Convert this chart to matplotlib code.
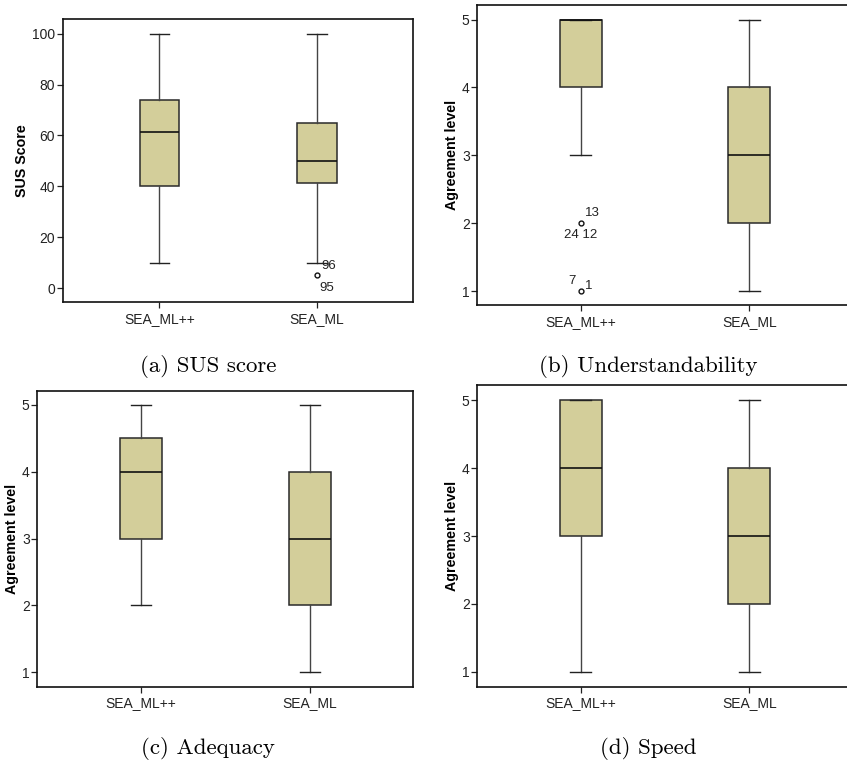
import matplotlib
matplotlib.use("Agg")
import matplotlib.pyplot as plt

plt.rcParams['font.family'] = ['Liberation Sans', 'DejaVu Sans']

groups = ["SEA_ML++", "SEA_ML"]

# (a) SUS score
sus_whislo = [10, 10]
sus_q1 = [40, 41.25]
sus_med = [61.25, 50]
sus_q3 = [73.75, 65]
sus_whishi = [100, 100]
sus_fliers = [[], [5]]

# (b) Understandability
und_whislo = [3, 1]
und_q1 = [4, 2]
und_med = [5, 3]
und_q3 = [5, 4]
und_whishi = [5, 5]
und_fliers = [[2, 1], []]

# (c) Adequacy
ade_whislo = [2, 1]
ade_q1 = [3, 2]
ade_med = [4, 3]
ade_q3 = [4.5, 4]
ade_whishi = [5, 5]
ade_fliers = [[], []]

# (d) Speed
spd_whislo = [1, 1]
spd_q1 = [3, 2]
spd_med = [4, 3]
spd_q3 = [5, 4]
spd_whishi = [5, 5]
spd_fliers = [[], []]

captions = ["(a) SUS score", "(b) Understandability", "(c) Adequacy", "(d) Speed"]
ylabels = ["SUS Score", "Agreement level", "Agreement level", "Agreement level"]

W, H = 847, 766
fig = plt.figure(figsize=(W / 100, H / 100), dpi=100)

def rect(l, r, t, b):
    return [l / W, 1 - b / H, (r - l) / W, (b - t) / H]

box_color = '#D3CE9A'
edge = '#2a2a2a'

def panel(pos, whislo, q1, med, q3, whishi, fliers, ylim, yticks, ylabel):
    ax = fig.add_axes(pos)
    stats = []
    for i in range(len(groups)):
        stats.append(dict(whislo=whislo[i], q1=q1[i], med=med[i], q3=q3[i],
                          whishi=whishi[i], fliers=fliers[i], label=groups[i]))
    ax.bxp(stats, positions=[1, 2], widths=0.25, capwidths=0.122, patch_artist=True,
           boxprops=dict(facecolor=box_color, edgecolor=edge, linewidth=1.1),
           medianprops=dict(color='#111111', linewidth=1.2),
           whiskerprops=dict(color='#444444', linewidth=1.0),
           capprops=dict(color='#222222', linewidth=1.0),
           flierprops=dict(marker='o', markersize=3.5, markerfacecolor='white',
                           markeredgecolor='#111111', markeredgewidth=1.0))
    ax.set_xlim(0.386, 2.61)
    ax.set_ylim(*ylim)
    ax.set_yticks(yticks)
    ax.set_xticks([1, 2])
    ax.set_xticklabels(groups)
    for s in ax.spines.values():
        s.set_linewidth(1.2)
        s.set_color('#111111')
    ax.tick_params(axis='both', labelsize=10, length=4, width=0.9, pad=1.5,
                   colors='#222222', labelcolor='#222222')
    ax.tick_params(axis='x', pad=3)
    ax.set_ylabel(ylabel, fontsize=10.3, fontweight='bold', labelpad=2)
    return ax

ax_a = panel(rect(62.7, 413, 19, 302), sus_whislo, sus_q1, sus_med, sus_q3, sus_whishi,
             sus_fliers, (-5.5, 105.8), [0, 20, 40, 60, 80, 100], ylabels[0])
ax_b = panel(rect(477.3, 852, 4.7, 305.3), und_whislo, und_q1, und_med, und_q3, und_whishi,
             und_fliers, (0.79, 5.22), [1, 2, 3, 4, 5], ylabels[1])
ax_c = panel(rect(37.3, 413.3, 390.7, 686.7), ade_whislo, ade_q1, ade_med, ade_q3, ade_whishi,
             ade_fliers, (0.785, 5.21), [1, 2, 3, 4, 5], ylabels[2])
ax_d = panel(rect(477.3, 852, 385.3, 686.7), spd_whislo, spd_q1, spd_med, spd_q3, spd_whishi,
             spd_fliers, (0.78, 5.22), [1, 2, 3, 4, 5], ylabels[3])

# outlier case labels
lab_kw = dict(textcoords='offset points', fontsize=9.5, color='#222222')
ax_a.annotate("96", (2, sus_fliers[1][0]), xytext=(3.5, 7), ha='left', va='center', **lab_kw)
ax_a.annotate("95", (2, sus_fliers[1][0]), xytext=(2, -9.5), ha='left', va='center', **lab_kw)
ax_b.annotate("13", (1, und_fliers[0][0]), xytext=(3, 7), ha='left', va='center', **lab_kw)
ax_b.annotate("24 12", (1, und_fliers[0][0]), xytext=(0, -8.5), ha='center', va='center', **lab_kw)
ax_b.annotate("7", (1, und_fliers[0][1]), xytext=(-4, 7.5), ha='right', va='center', **lab_kw)
ax_b.annotate("1", (1, und_fliers[0][1]), xytext=(3, 3.5), ha='left', va='center', **lab_kw)

# captions
cap_kw = dict(fontsize=16.5, family='cmr10', ha='center', va='center')
fig.text(208 / W, 1 - 366.7 / H, captions[0], **cap_kw)
fig.text(648 / W, 1 - 366.7 / H, captions[1], **cap_kw)
fig.text(208 / W, 1 - 748 / H, captions[2], **cap_kw)
fig.text(648 / W, 1 - 748 / H, captions[3], **cap_kw)

fig.savefig("out.png", dpi=100)
